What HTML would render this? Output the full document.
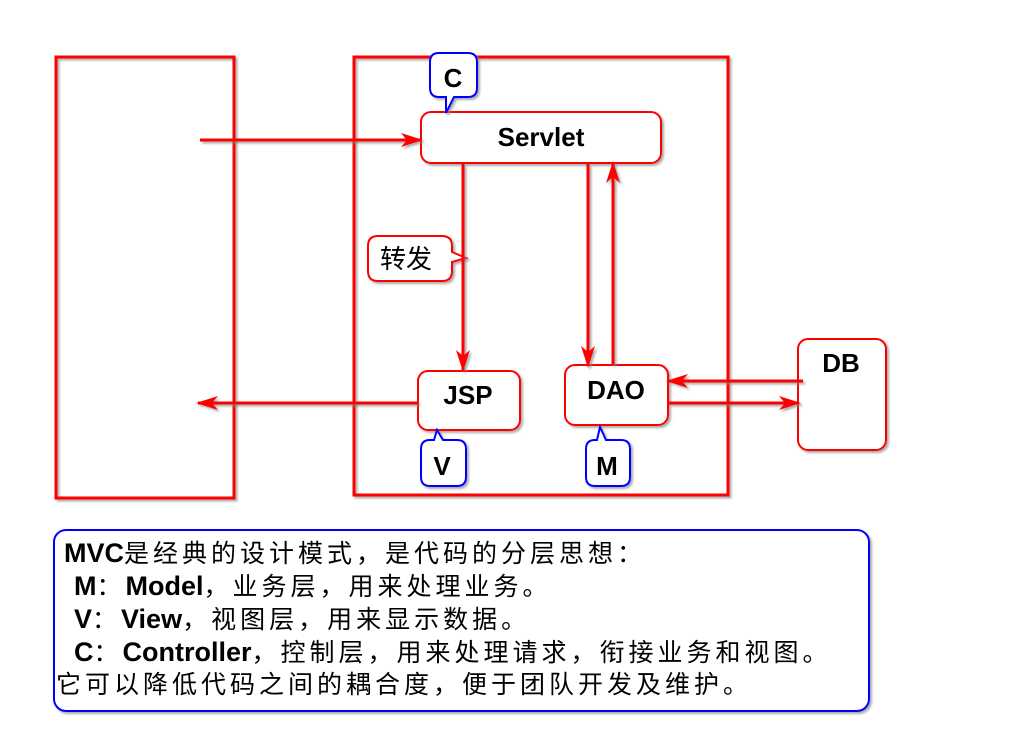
<!DOCTYPE html>
<html><head><meta charset="utf-8"><style>
body{margin:0;background:#fff;}
svg text{font-family:"Liberation Sans","Noto Sans CJK SC",sans-serif;}
.t{position:absolute;left:0;font-family:"Liberation Sans","Noto Sans CJK SC",sans-serif;font-size:25px;line-height:25px;white-space:nowrap;color:#000;}
.t span{letter-spacing:4px;}
.t b{font-weight:bold;letter-spacing:0;font-size:27px;}
</style></head><body>
<svg width="1024" height="755" viewBox="0 0 1024 755" xmlns="http://www.w3.org/2000/svg" style="position:absolute;left:0;top:0">
<defs>
<marker id="a" markerWidth="22" markerHeight="14" refX="20" refY="7" orient="auto" markerUnits="userSpaceOnUse"><path d="M0,0 L22,7 L0,14 L6,7 Z" fill="#f00"/></marker>
<filter id="s" x="-5%" y="-5%" width="115%" height="115%"><feDropShadow dx="2" dy="2" stdDeviation="1" flood-color="#888" flood-opacity="0.7"/></filter>
</defs>
<g fill="none" stroke="#f00" stroke-width="3" filter="url(#s)">
<rect x="56" y="57" width="178" height="441"/>
<rect x="354" y="57" width="374" height="438"/>
</g>
<g fill="#fff" stroke="#f00" stroke-width="2" filter="url(#s)">
<rect x="421" y="112" width="240" height="51" rx="10"/>
<rect x="418" y="371" width="102" height="59" rx="10"/>
<rect x="565" y="365" width="103" height="60" rx="10"/>
<rect x="798" y="339" width="88" height="111" rx="10"/>
<path d="M378,236 H442 Q452,236 452,246 V252 L466,258 L452,262 V271 Q452,281 442,281 H378 Q368,281 368,271 V246 Q368,236 378,236 Z"/>
</g>
<g fill="#fff" stroke="#00f" stroke-width="2" filter="url(#s)">
<path d="M439,53 H468 Q477,53 477,62 V88 Q477,97 468,97 H454 L446,113 L446,97 H439 Q430,97 430,88 V62 Q430,53 439,53 Z"/>
<path d="M430,440 H434 L437,430 L443,440 H457 Q466,440 466,449 V477 Q466,486 457,486 H430 Q421,486 421,477 V449 Q421,440 430,440 Z"/>
<path d="M595,440 H597 L600,427 L606,440 H621 Q630,440 630,449 V477 Q630,486 621,486 H595 Q586,486 586,477 V449 Q586,440 595,440 Z"/>
</g>
<g stroke="#f00" stroke-width="3" fill="none" filter="url(#s)">
<line x1="200" y1="140" x2="421" y2="140" marker-end="url(#a)"/>
<line x1="463" y1="164" x2="463" y2="370" marker-end="url(#a)"/>
<line x1="588" y1="164" x2="588" y2="366" marker-end="url(#a)"/>
<line x1="613" y1="364" x2="613" y2="163" marker-end="url(#a)"/>
<line x1="803" y1="381" x2="668" y2="381" marker-end="url(#a)"/>
<line x1="668" y1="403" x2="799" y2="403" marker-end="url(#a)"/>
<line x1="418" y1="403" x2="198" y2="403" marker-end="url(#a)"/>
</g>
<g font-weight="bold" font-size="26" text-anchor="middle" fill="#000">
<text x="541" y="146">Servlet</text>
<text x="468" y="404">JSP</text>
<text x="616" y="399">DAO</text>
<text x="841" y="372">DB</text>
<text x="453" y="87">C</text>
<text x="442" y="475">V</text>
<text x="607" y="475">M</text>
</g>
<text x="380" y="268" font-size="26" fill="#000">转发</text>
<rect x="54" y="530" width="815" height="181" rx="12" fill="#fff" stroke="#00f" stroke-width="2" filter="url(#s)"/>
</svg>
<div class="t" style="left:64px;top:541px"><b>MVC</b><span>是经典的设计模式，是代码的分层思想：</span></div>
<div class="t" style="left:74px;top:574px"><b>M</b><span>：</span><b>Model</b><span>，业务层，用来处理业务。</span></div>
<div class="t" style="left:74px;top:607px"><b>V</b><span>：</span><b>View</b><span>，视图层，用来显示数据。</span></div>
<div class="t" style="left:74px;top:640px"><b>C</b><span>：</span><b>Controller</b><span>，控制层，用来处理请求，衔接业务和视图。</span></div>
<div class="t" style="left:56px;top:673px"><span>它可以降低代码之间的耦合度，便于团队开发及维护。</span></div>
</body></html>
